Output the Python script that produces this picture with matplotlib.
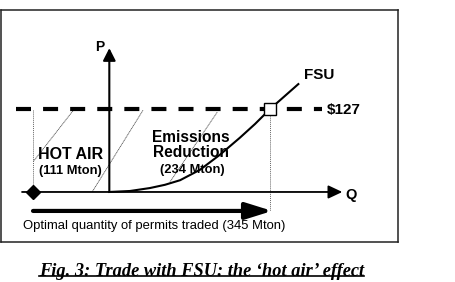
import numpy as np
import matplotlib.pyplot as plt
from matplotlib.lines import Line2D

# FSU marginal abatement cost curve (Q in Mton, P in $)
curve_q = [0, 30, 59, 81, 103, 132, 161, 190, 212, 234, 275]
curve_p = [0, 1.5, 6, 11, 18, 34, 57, 83, 104, 127, 165]

price = 127          # permit price
hot_air = 111        # Mton
reduction = 234      # Mton
traded = hot_air + reduction

# diagonal hatch strokes across the two areas (start, end) points
hatch_q = [(-53, -111), (49, -25), (157, 88)]
hatch_p = [(124, 46), (125, 0), (122, 15)]

plt.rcParams['font.family'] = ['Liberation Sans', 'DejaVu Sans']

fig = plt.figure(figsize=(4.55, 2.82), dpi=100)
ax = fig.add_axes([1/455, 40/282, 397/455, 232/282])
ax.set_xlim(-157.6, 420)
ax.set_ylim(-76.5, 278.3)
ax.set_xticks([])
ax.set_yticks([])
for s in ax.spines.values():
    s.set_linewidth(1.1)
    s.set_color('#222222')

# price line
ax.plot([-136, 310], [price, price], color='black', lw=3,
        dashes=(3.6, 2.9), solid_capstyle='butt', dash_capstyle='butt', zorder=2)

# hatch strokes
for qq, pp in zip(hatch_q, hatch_p):
    ax.plot(qq, pp, color='#555555', lw=0.6, ls=(0, (1.5, 0.6)), zorder=1)

# dotted verticals
ax.plot([-hot_air, -hot_air], [price - 2, 0], color='#666666', lw=0.7, ls=(0, (1, 1)), zorder=1)
ax.plot([reduction, reduction], [price - 4, -29], color='#666666', lw=0.7, ls=(0, (1, 1)), zorder=1)

# axes arrows
ax.annotate('', xy=(0, 220), xytext=(0, 0),
            arrowprops=dict(arrowstyle='-|>,head_length=0.75,head_width=0.38', lw=1.5,
                            color='black', mutation_scale=10, shrinkA=0, shrinkB=0))
ax.annotate('', xy=(339, 0), xytext=(-127, 0),
            arrowprops=dict(arrowstyle='-|>,head_length=0.85,head_width=0.4', lw=1.3,
                            color='black', mutation_scale=10, shrinkA=0, shrinkB=0))

# traded quantity arrow
ax.annotate('', xy=(traded - hot_air + 3, -29), xytext=(-hot_air, -29),
            arrowprops=dict(arrowstyle='-|>,head_length=1.6,head_width=0.5', lw=3,
                            color='black', mutation_scale=10, shrinkA=0, shrinkB=0))

# supply curve
ax.plot(curve_q, curve_p, color='black', lw=1.5, zorder=3)

# markers
ax.plot([-hot_air], [0], marker='D', ms=7.5, color='black', zorder=4)
ax.plot([reduction], [price], marker='s', ms=8.5, mfc='white', mec='black', mew=1, zorder=5)

# labels
ax.text(-13.5, 222, 'P', fontsize=10, fontweight='bold', ha='center', va='center')
ax.text(352, -4.6, 'Q', fontsize=10.5, fontweight='bold', ha='center', va='center')
ax.text(306, 179, 'FSU', fontsize=11, fontweight='bold', ha='center', va='center')
ax.text(316, 125, '$127', fontsize=11, fontweight='bold', ha='left', va='center')
ax.text(-57, 57, 'HOT AIR', fontsize=11.5, fontweight='bold', ha='center', va='center')
ax.text(-57, 32, '(111 Mton)', fontsize=9.3, fontweight='bold', ha='center', va='center')
ax.text(119, 83, 'Emissions', fontsize=11.2, fontweight='bold', ha='center', va='center')
ax.text(119, 60, 'Reduction', fontsize=11.2, fontweight='bold', ha='center', va='center')
ax.text(121, 34, '(234 Mton)', fontsize=9.3, fontweight='bold', ha='center', va='center')
ax.text(65, -52, 'Optimal quantity of permits traded (345 Mton)', fontsize=9.4,
        ha='center', va='center')

# caption
cap = fig.text(201.5/455, 6/282, 'Fig. 3: Trade with FSU: the \u2018hot air\u2019 effect',
               fontsize=13.2, fontweight='bold', fontstyle='italic',
               family=['Liberation Serif', 'DejaVu Serif'], ha='center', va='baseline')
fig.canvas.draw()
bb = cap.get_window_extent()
y_ul = (bb.y0 + 4) / fig.bbox.height
fig.add_artist(Line2D([bb.x0 / fig.bbox.width, bb.x1 / fig.bbox.width], [y_ul, y_ul],
                      color='black', lw=1.2, transform=fig.transFigure))

fig.savefig('out.png', dpi=100)
